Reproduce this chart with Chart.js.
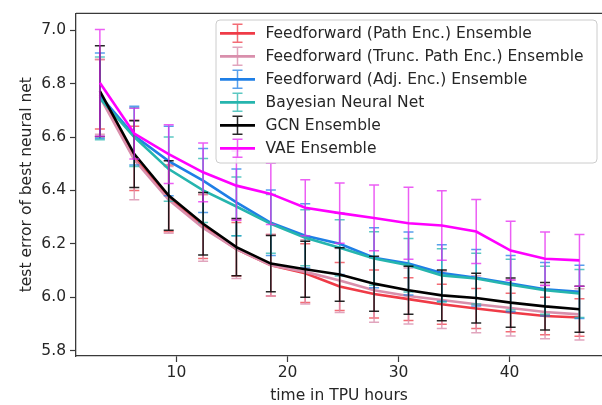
<!DOCTYPE html>
<html>
<head>
<meta charset="utf-8">
<script src="https://cdn.jsdelivr.net/npm/chart.js@4.4.0/dist/chart.umd.min.js"></script>
<style>
html,body{margin:0;padding:0;background:#fff;}
#wrap{width:602px;height:405px;position:relative;}
</style>
</head>
<body>
<div id="wrap"><canvas id="c" width="602" height="405"></canvas></div>
<script>
// ---- data ----
const hours = [3.1, 6.2, 9.3, 12.4, 15.4, 18.5, 21.6, 24.7, 27.8, 30.9, 33.9, 37.0, 40.1, 43.2, 46.3];

const seriesNames = [
  "Feedforward (Path Enc.) Ensemble",
  "Feedforward (Trunc. Path Enc.) Ensemble",
  "Feedforward (Adj. Enc.) Ensemble",
  "Bayesian Neural Net",
  "GCN Ensemble",
  "VAE Ensemble"
];

const pathEncMean  = [6.76, 6.52, 6.37, 6.265, 6.18, 6.12, 6.09, 6.04, 6.012, 5.993, 5.974, 5.958, 5.943, 5.93, 5.924];
const pathEncErr   = [0.13, 0.12, 0.125, 0.12, 0.10, 0.115, 0.11, 0.09, 0.09, 0.08, 0.075, 0.075, 0.072, 0.07, 0.07];

const truncEncMean = [6.75, 6.515, 6.365, 6.26, 6.18, 6.12, 6.095, 6.063, 6.026, 6.005, 5.99, 5.974, 5.96, 5.945, 5.936];
const truncEncErr  = [0.14, 0.15, 0.125, 0.125, 0.11, 0.115, 0.12, 0.12, 0.12, 0.105, 0.107, 0.107, 0.105, 0.10, 0.096];

const adjEncMean   = [6.755, 6.605, 6.51, 6.437, 6.355, 6.279, 6.23, 6.2, 6.148, 6.126, 6.091, 6.073, 6.051, 6.03, 6.02];
const adjEncErr    = [0.16, 0.11, 0.13, 0.12, 0.125, 0.123, 0.12, 0.115, 0.112, 0.118, 0.106, 0.106, 0.105, 0.10, 0.10];

const bnnMean      = [6.745, 6.60, 6.48, 6.40, 6.34, 6.275, 6.223, 6.185, 6.145, 6.12, 6.082, 6.07, 6.047, 6.026, 6.014];
const bnnErr       = [0.155, 0.11, 0.12, 0.12, 0.11, 0.11, 0.105, 0.105, 0.10, 0.10, 0.10, 0.095, 0.095, 0.09, 0.09];

const gcnMean      = [6.772, 6.536, 6.381, 6.275, 6.188, 6.126, 6.105, 6.085, 6.051, 6.026, 6.007, 5.997, 5.98, 5.966, 5.955];
const gcnErr       = [0.17, 0.125, 0.13, 0.117, 0.107, 0.105, 0.105, 0.10, 0.103, 0.09, 0.095, 0.093, 0.092, 0.089, 0.086];

const vaeMean      = [6.803, 6.613, 6.536, 6.468, 6.418, 6.387, 6.335, 6.315, 6.297, 6.277, 6.269, 6.246, 6.175, 6.144, 6.138];
const vaeErr       = [0.20, 0.095, 0.11, 0.11, 0.13, 0.115, 0.105, 0.113, 0.123, 0.135, 0.13, 0.12, 0.11, 0.10, 0.097];

const xTickValues = [10, 20, 30, 40];
const yTickValues = [5.8, 6.0, 6.2, 6.4, 6.6, 6.8, 7.0];

// ---- styles ----
const colors = ['#ef3b47', '#d98fac', '#1f7fe6', '#26b5ae', '#000000', '#ff00ff'];
const barColors = ['rgba(239,59,71,0.75)', 'rgba(217,143,172,0.8)', 'rgba(31,127,230,0.75)',
                   'rgba(38,181,174,0.75)', 'rgba(0,0,0,0.85)', 'rgba(230,40,240,0.75)'];
const means = [pathEncMean, truncEncMean, adjEncMean, bnnMean, gcnMean, vaeMean];
const errs  = [pathEncErr, truncEncErr, adjEncErr, bnnErr, gcnErr, vaeErr];

const FONT = "'DejaVu Sans', sans-serif";
const TEXT = '#262626';
const AXIS = '#3a3a3a';

const datasets = seriesNames.map((name, i) => ({
  label: name,
  data: hours.map((h, k) => ({x: h, y: means[i][k]})),
  errors: errs[i],
  borderColor: colors[i],
  backgroundColor: colors[i],
  borderWidth: 2.6,
  pointRadius: 0,
  tension: 0,
  fill: false,
  order: 6 - i
}));

const errorBarPlugin = {
  id: 'errorBars',
  beforeDatasetDraw(chart, args) {
    const ds = chart.data.datasets[args.index];
    const xs = chart.scales.x, ys = chart.scales.y;
    const ctx = chart.ctx;
    ctx.save();
    ctx.beginPath();
    ctx.rect(chart.chartArea.left, chart.chartArea.top, chart.chartArea.right - chart.chartArea.left, chart.chartArea.bottom - chart.chartArea.top);
    ctx.clip();
    ctx.strokeStyle = barColors[args.index];
    ctx.lineWidth = 1.5;
    ds.data.forEach((p, k) => {
      const e = ds.errors[k];
      const px = xs.getPixelForValue(p.x);
      const yt = ys.getPixelForValue(p.y + e);
      const yb = ys.getPixelForValue(p.y - e);
      ctx.beginPath();
      ctx.moveTo(px, yt); ctx.lineTo(px, yb);
      ctx.moveTo(px - 5, yt); ctx.lineTo(px + 5, yt);
      ctx.moveTo(px - 5, yb); ctx.lineTo(px + 5, yb);
      ctx.stroke();
    });
    ctx.restore();
  }
};

const framePlugin = {
  id: 'frame',
  afterDraw(chart) {
    const ctx = chart.ctx, a = chart.chartArea;
    ctx.save();
    // top spine
    ctx.strokeStyle = AXIS;
    ctx.lineWidth = 1.3;
    ctx.beginPath();
    ctx.moveTo(a.left, a.top); ctx.lineTo(a.right, a.top);
    ctx.stroke();

    // legend
    const lx = 216, ly = 20, lw = 381, lh = 143, r = 4;
    ctx.fillStyle = 'rgba(255,255,255,0.8)';
    ctx.strokeStyle = '#cccccc';
    ctx.lineWidth = 1;
    ctx.beginPath();
    ctx.moveTo(lx + r, ly);
    ctx.lineTo(lx + lw - r, ly); ctx.arcTo(lx + lw, ly, lx + lw, ly + r, r);
    ctx.lineTo(lx + lw, ly + lh - r); ctx.arcTo(lx + lw, ly + lh, lx + lw - r, ly + lh, r);
    ctx.lineTo(lx + r, ly + lh); ctx.arcTo(lx, ly + lh, lx, ly + lh - r, r);
    ctx.lineTo(lx, ly + r); ctx.arcTo(lx, ly, lx + r, ly, r);
    ctx.closePath();
    ctx.fill(); ctx.stroke();

    ctx.font = '15.5px ' + FONT;
    ctx.textBaseline = 'middle';
    ctx.textAlign = 'left';
    chart.data.datasets.forEach((ds, i) => {
      const cy = 33.3 + i * 23.0;
      ctx.strokeStyle = colors[i];
      ctx.lineWidth = 2.8;
      ctx.beginPath(); ctx.moveTo(220, cy); ctx.lineTo(255, cy); ctx.stroke();
      ctx.strokeStyle = barColors[i];
      ctx.lineWidth = 1.5;
      ctx.beginPath();
      ctx.moveTo(237.5, cy - 9); ctx.lineTo(237.5, cy + 9);
      ctx.moveTo(232.5, cy - 9); ctx.lineTo(242.5, cy - 9);
      ctx.moveTo(232.5, cy + 9); ctx.lineTo(242.5, cy + 9);
      ctx.stroke();
      ctx.fillStyle = TEXT;
      ctx.fillText(ds.label, 265.5, cy + 0.5);
    });
    ctx.restore();
  }
};

new Chart(document.getElementById('c'), {
  type: 'line',
  data: { datasets },
  plugins: [errorBarPlugin, framePlugin],
  options: {
    responsive: false,
    animation: false,
    devicePixelRatio: 1,
    layout: { padding: { top: 12, left: 0, right: 0, bottom: 0 } },
    plugins: { legend: { display: false }, tooltip: { enabled: false } },
    scales: {
      x: {
        type: 'linear',
        min: 0.95,
        max: 48.33,
        afterBuildTicks: (s) => { s.ticks = xTickValues.map(v => ({value: v})); },
        afterFit: (s) => { s.height = 49; },
        grid: { drawOnChartArea: false, drawTicks: true, tickLength: 6, tickColor: AXIS, tickWidth: 1.2 },
        border: { display: true, color: AXIS, width: 1.3 },
        ticks: { color: TEXT, font: { family: FONT, size: 15.5 }, padding: 2, maxRotation: 0,
                 callback: (v) => String(v) },
        title: { display: true, text: 'time in TPU hours', color: TEXT,
                 font: { family: FONT, size: 15.5, lineHeight: 1.2 }, padding: { top: 0, bottom: 0 } }
      },
      y: {
        type: 'linear',
        min: 5.78,
        max: 7.0634,
        afterBuildTicks: (s) => { s.ticks = yTickValues.map(v => ({value: v})); },
        afterFit: (s) => { s.width = 76; },
        grid: { drawOnChartArea: false, drawTicks: true, tickLength: 6, tickColor: AXIS, tickWidth: 1.2 },
        border: { display: true, color: AXIS, width: 1.3 },
        ticks: { color: TEXT, font: { family: FONT, size: 15.5 }, padding: 4,
                 callback: (v) => Number(v).toFixed(1) },
        title: { display: true, text: 'test error of best neural net', color: TEXT,
                 font: { family: FONT, size: 15.5, lineHeight: 1.2 }, padding: { top: 18, bottom: 0 } }
      }
    }
  }
});
</script>
</body>
</html>
